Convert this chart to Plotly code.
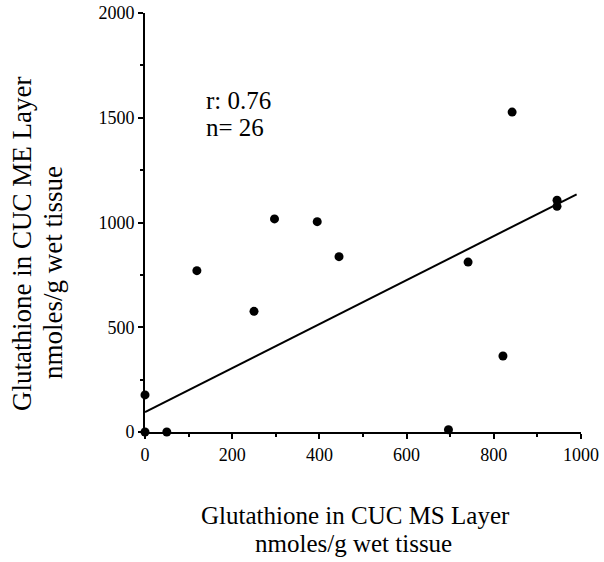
import plotly.graph_objects as go

# Data
ms_layer = [0, 0, 50, 119, 250, 297, 395, 445, 696, 741, 821, 842, 945, 945]
me_layer = [0, 177, 0, 770, 576, 1017, 1004, 837, 11, 811, 363, 1527, 1106, 1077]

fit_intercept = 95
fit_slope = 1.05
fit_x = [0, 990]
fit_y = [fit_intercept + fit_slope * v for v in fit_x]

stats_lines = ["r: 0.76", "n= 26"]
stats_y = [1580, 1452]

x_ticks = [0, 200, 400, 600, 800, 1000]
y_ticks = [0, 500, 1000, 1500, 2000]

x_title_lines = ["Glutathione in CUC MS Layer", "nmoles/g wet tissue"]
y_title_lines = ["Glutathione in CUC ME Layer", "nmoles/g wet tissue"]

font_family = "Liberation Serif, Times New Roman, serif"

# Page body margin is removed by the post script below, so the figure
# occupies the full window.
W, H = 604, 562
L, T = 145, 13
R = W - 581
B = H - 432
pw, ph = W - L - R, H - T - B


def page_to_paper(px, py):
    return (px - L) / pw, 1 - (py - T) / ph


fig = go.Figure()
fig.add_trace(go.Scatter(x=fit_x, y=fit_y, mode="lines",
                         line=dict(color="black", width=2), cliponaxis=False,
                         showlegend=False, hoverinfo="skip"))
fig.add_trace(go.Scatter(x=ms_layer, y=me_layer, mode="markers",
                         marker=dict(color="black", size=9), cliponaxis=False,
                         showlegend=False))

for txt, yy in zip(stats_lines, stats_y):
    fig.add_annotation(x=136, y=yy, text=txt, showarrow=False,
                       xanchor="left", yanchor="middle",
                       font=dict(family=font_family, size=25, color="black"))

# x-axis title (two lines)
for txt, (px, py) in zip(x_title_lines, [(355, 515), (353, 543)]):
    ax, ay = page_to_paper(px, py)
    fig.add_annotation(xref="paper", yref="paper", x=ax, y=ay, text=txt,
                       showarrow=False, xanchor="center", yanchor="middle",
                       font=dict(family=font_family, size=25, color="black"))

# y-axis title (two lines, rotated)
for txt, (px, py) in zip(y_title_lines, [(22, 244), (53, 273)]):
    ax, ay = page_to_paper(px, py)
    fig.add_annotation(xref="paper", yref="paper", x=ax, y=ay, text=txt,
                       showarrow=False, xanchor="center", yanchor="middle",
                       textangle=-90,
                       font=dict(family=font_family, size=27, color="black"))

fig.update_layout(
    width=W, height=H,
    margin=dict(l=L, r=R, t=T, b=B),
    plot_bgcolor="white", paper_bgcolor="white",
    font=dict(family=font_family, color="black", size=16),
    xaxis=dict(range=[0, 1000], tickvals=x_ticks, showline=True, linecolor="black",
               linewidth=2, ticks="outside", ticklen=5, tickwidth=1.5, tickcolor="black",
               minor=dict(dtick=100, ticks="outside", ticklen=3, tickcolor="black"),
               showgrid=False, zeroline=False, automargin=False,
               ticklabeloverflow="allow",
               tickfont=dict(size=18, family=font_family)),
    yaxis=dict(range=[0, 2000], tickvals=y_ticks, showline=True, linecolor="black",
               linewidth=2, ticks="outside", ticklen=5, tickwidth=1.5, tickcolor="black",
               minor=dict(dtick=250, ticks="outside", ticklen=3, tickcolor="black"),
               showgrid=False, zeroline=False, automargin=False,
               ticklabeloverflow="allow",
               tickfont=dict(size=18, family=font_family)),
)

fig.write_html("out.html",
               config={"displayModeBar": False},
               post_script="document.body.style.margin='0px';"
                           "document.body.style.overflow='hidden';")
